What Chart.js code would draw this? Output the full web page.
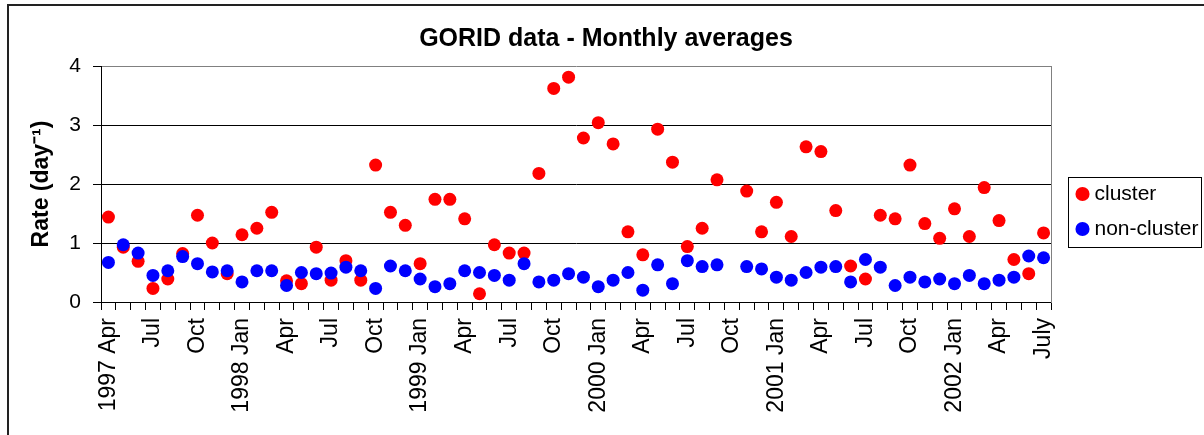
<!DOCTYPE html>
<html>
	<head>
		<title>GORID data - Monthly averages</title>
		<meta charset="utf-8">
		<script src="https://cdn.jsdelivr.net/npm/chart.js"></script>
		<style>
			body { margin: 0; background: #fff; }
			#wrap { width: 1204px; height: 435px; }
		</style>
	</head>
	<body>
		<div id="wrap"><canvas id="gorid"></canvas></div>

		<script>
			// Months from 1997 Apr to 2002 Jul.
			const months = [
				'1997 Apr', '1997 May', '1997 Jun', '1997 Jul', '1997 Aug', '1997 Sep', '1997 Oct', '1997 Nov', '1997 Dec',
				'1998 Jan', '1998 Feb', '1998 Mar', '1998 Apr', '1998 May', '1998 Jun', '1998 Jul', '1998 Aug', '1998 Sep', '1998 Oct', '1998 Nov', '1998 Dec',
				'1999 Jan', '1999 Feb', '1999 Mar', '1999 Apr', '1999 May', '1999 Jun', '1999 Jul', '1999 Aug', '1999 Sep', '1999 Oct', '1999 Nov', '1999 Dec',
				'2000 Jan', '2000 Feb', '2000 Mar', '2000 Apr', '2000 May', '2000 Jun', '2000 Jul', '2000 Aug', '2000 Sep', '2000 Oct', '2000 Nov', '2000 Dec',
				'2001 Jan', '2001 Feb', '2001 Mar', '2001 Apr', '2001 May', '2001 Jun', '2001 Jul', '2001 Aug', '2001 Sep', '2001 Oct', '2001 Nov', '2001 Dec',
				'2002 Jan', '2002 Feb', '2002 Mar', '2002 Apr', '2002 May', '2002 Jun', '2002 Jul'
			];

			// Labels shown on the axis, one every third month.
			const tickLabels = [
				'1997 Apr', 'Jul', 'Oct', '1998 Jan', 'Apr', 'Jul', 'Oct',
				'1999 Jan', 'Apr', 'Jul', 'Oct', '2000 Jan', 'Apr', 'Jul', 'Oct',
				'2001 Jan', 'Apr', 'Jul', 'Oct', '2002 Jan', 'Apr', 'July'
			];

			const cluster = [
				1.44, 0.93, 0.69, 0.23, 0.39, 0.82, 1.47, 1.00, 0.48,
				1.14, 1.25, 1.52, 0.36, 0.31, 0.93, 0.37, 0.70, 0.37, 2.32, 1.52, 1.30,
				0.65, 1.74, 1.74, 1.41, 0.14, 0.97, 0.83, 0.83, 2.18, 3.62, 3.81, 2.78,
				3.04, 2.68, 1.19, 0.80, 2.93, 2.37, 0.94, 1.25, 2.07, null, 1.88, 1.19,
				1.69, 1.11, 2.63, 2.55, 1.55, 0.61, 0.39, 1.47, 1.41, 2.32, 1.33, 1.08,
				1.58, 1.11, 1.94, 1.38, 0.72, 0.48, 1.17
			];

			const nonCluster = [
				0.67, 0.97, 0.83, 0.45, 0.53, 0.77, 0.65, 0.51, 0.53,
				0.34, 0.53, 0.53, 0.28, 0.50, 0.48, 0.49, 0.59, 0.53, 0.23, 0.61, 0.53,
				0.39, 0.26, 0.31, 0.53, 0.50, 0.45, 0.37, 0.65, 0.34, 0.37, 0.48, 0.42,
				0.26, 0.37, 0.50, 0.20, 0.63, 0.31, 0.70, 0.60, 0.63, null, 0.60, 0.56,
				0.42, 0.37, 0.50, 0.59, 0.60, 0.34, 0.72, 0.59, 0.28, 0.42, 0.34, 0.39,
				0.31, 0.45, 0.31, 0.37, 0.42, 0.78, 0.75
			];

			Chart.defaults.font.family = '"Liberation Sans", Arial, sans-serif';
			Chart.defaults.color = '#000';

			// Frame round the whole chart and round the legend.
			const frames = {
				id: 'frames',
				afterDraw(chart) {
					const ctx = chart.ctx;
					ctx.save();
					ctx.strokeStyle = '#222';
					ctx.lineWidth = 2;
					ctx.strokeRect(8, 5, chart.width + 20, chart.height + 20);

					const boxes = chart.legend.legendHitBoxes;
					if (boxes.length) {
						const first = boxes[0];
						const last = boxes[boxes.length - 1];
						ctx.strokeStyle = '#000';
						ctx.lineWidth = 1;
						ctx.strokeRect(Math.round(first.left - 13) + 0.5, Math.round(first.top - 7) + 0.5,
							chart.width - first.left + 10, last.top - first.top + 35);
					}
					ctx.restore();
				}
			};

			new Chart(document.getElementById('gorid'), {
				type: 'line',
				data: {
					labels: months,
					datasets: [
						{
							label: 'cluster',
							data: cluster,
							showLine: false,
							backgroundColor: '#ff0000',
							pointBackgroundColor: '#ff0000',
							pointBorderWidth: 0,
							pointRadius: 6.5,
							order: 1
						},
						{
							label: 'non-cluster',
							data: nonCluster,
							showLine: false,
							backgroundColor: '#0000ff',
							pointBackgroundColor: '#0000ff',
							pointBorderWidth: 0,
							pointRadius: 6.5,
							order: 0
						}
					]
				},
				options: {
					responsive: true,
					maintainAspectRatio: false,
					animation: false,
					layout: { padding: { left: 8, right: 0, top: 0, bottom: 12 } },
					plugins: {
						title: {
							display: true,
							text: 'GORID data - Monthly averages',
							font: { size: 25, weight: 'bold' },
							padding: { top: 24, bottom: 12 }
						},
						legend: {
							position: 'right',
							maxWidth: 137,
							labels: {
								usePointStyle: true,
								pointStyle: 'circle',
								boxWidth: 3,
								boxHeight: 10,
								padding: 14,
								font: { size: 21 },
								sort: (a, b) => a.datasetIndex - b.datasetIndex
							}
						},
						tooltip: { enabled: false }
					},
					scales: {
						x: {
							offset: true,
							grid: { offset: true, drawOnChartArea: false, tickLength: 8, color: '#000' },
							border: { color: '#000' },
							ticks: {
								autoSkip: false,
								minRotation: 90,
								maxRotation: 90,
								padding: 8,
								font: { size: 23 },
								callback: (v, i) => (i % 3 === 0 ? tickLabels[i / 3] : '')
							},
							afterFit: (s) => { s.height = 121; }
						},
						y: {
							min: 0,
							max: 4,
							ticks: { stepSize: 1, padding: 12, font: { size: 21 } },
							grid: {
								tickLength: 8,
								tickColor: '#000',
								color: (c) => (c.tick && c.tick.value === 4 ? '#808080' : '#000')
							},
							border: { color: '#000' },
							title: {
								display: true,
								text: 'Rate (day⁻¹)',
								font: { size: 23, weight: 'bold' },
								padding: { top: 20, bottom: 0 }
							},
							afterFit: (s) => { s.width = 93; }
						},
						y2: {
							position: 'right',
							min: 0,
							max: 4,
							ticks: { display: false },
							grid: { drawOnChartArea: false, drawTicks: false },
							border: { color: '#808080' },
							afterFit: (s) => { s.width = 16; }
						}
					}
				},
				plugins: [frames]
			});
		</script>
	</body>
</html>
